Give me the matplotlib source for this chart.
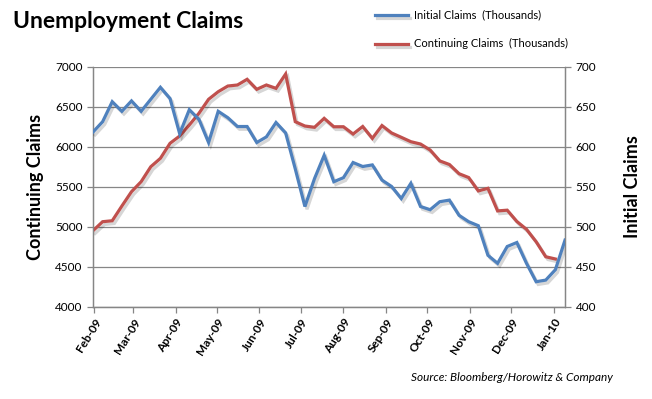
import matplotlib
matplotlib.use('Agg')
import matplotlib.pyplot as plt
import matplotlib.dates as mdates
import matplotlib.patheffects as pe
import numpy as np
import pandas as pd

# weekly claims, Jan 31 2009 -> Jan 9 2010
weeks = pd.date_range('2009-01-31', periods=50, freq='W-SAT')

initial_claims = [618, 631, 656, 644, 657, 644, 659, 674, 660, 616,
                  646, 634, 605, 644, 636, 625, 625, 605, 612, 630,
                  617, 572, 525, 560, 589, 556, 561, 580, 575, 577,
                  558, 550, 535, 554, 525, 521, 531, 533, 514, 506,
                  501, 464, 454, 475, 480, 454, 431, 433, 446, 483]

continuing_claims = [4947, 5060, 5072, 5256, 5435, 5560, 5747, 5852, 6040, 6131,
                     6269, 6415, 6590, 6685, 6756, 6769, 6840, 6715, 6769, 6727,
                     6906, 6310, 6256, 6240, 6352, 6247, 6247, 6156, 6250, 6102,
                     6262, 6169, 6115, 6060, 6031, 5956, 5820, 5775, 5660, 5612,
                     5445, 5477, 5195, 5204, 5063, 4965, 4810, 4622, 4594, np.nan]

BLUE = '#4F81BD'
RED = '#C0504D'
GRID = '#868686'

plt.rcParams['font.family'] = ['Lato', 'DejaVu Sans']

fig = plt.figure(figsize=(6.52, 3.99), dpi=100)
ax = fig.add_axes([0.1426, 0.2318, 0.724, 0.6015])
ax2 = ax.twinx()

# soft drop shadow like the excel line effect
shadow = [pe.SimpleLineShadow(offset=(1.5, -2.0), alpha=0.16, rho=0.3), pe.Normal()]

# continuing claims on left axis, initial claims on right
ax.plot(weeks, continuing_claims, color=RED, lw=2.3, solid_joinstyle='miter',
        path_effects=shadow, zorder=3)
ax2.plot(weeks, initial_claims, color=BLUE, lw=2.3, solid_joinstyle='miter',
         path_effects=shadow, zorder=3)

ax.set_ylim(4000, 7000)
ax.set_yticks(np.arange(4000, 7001, 500))
ax2.set_ylim(400, 700)
ax2.set_yticks(np.arange(400, 701, 50))
ax.set_xlim(weeks[0], weeks[-1])

ax.grid(axis='y', color=GRID, lw=0.9)
ax.set_axisbelow(True)

ax.xaxis.set_major_locator(mdates.MonthLocator())
ax.xaxis.set_major_formatter(mdates.DateFormatter('%b-%y'))
for lbl in ax.get_xticklabels():
    lbl.set_rotation(58)
    lbl.set_ha('right')
    lbl.set_rotation_mode('anchor')
    lbl.set_fontweight('bold')
    lbl.set_fontsize(8)

for a in (ax, ax2):
    a.spines['top'].set_visible(False)
    for s in ('left', 'right', 'bottom'):
        a.spines[s].set_color(GRID)
        a.spines[s].set_linewidth(0.9)
    a.tick_params(colors=GRID, labelcolor='black', length=4, width=0.9, labelsize=8.5)
ax.tick_params(axis='x', pad=3)

ax.set_ylabel('Continuing Claims', fontsize=13, fontweight='bold', labelpad=8)
ax2.set_ylabel('Initial Claims', fontsize=13, fontweight='bold', labelpad=20)

fig.text(0.02, 0.945, 'Unemployment Claims', fontsize=16.5, fontweight='bold', va='center')

# legend drawn in figure coords (top right, stacked)
leg_items = [(BLUE, 'Initial Claims  (Thousands)', 0.962),
             (RED, 'Continuing Claims  (Thousands)', 0.89)]
for color, label, yy in leg_items:
    fig.add_artist(plt.Line2D([0.575, 0.626], [yy, yy], color=color, lw=2.3,
                              transform=fig.transFigure, path_effects=shadow))
    fig.text(0.635, yy, label, fontsize=8, va='center')

fig.text(0.94, 0.055, 'Source: Bloomberg/Horowitz & Company', fontsize=8.5,
         style='italic', ha='right', va='center')

fig.savefig('out.png', dpi=100)
